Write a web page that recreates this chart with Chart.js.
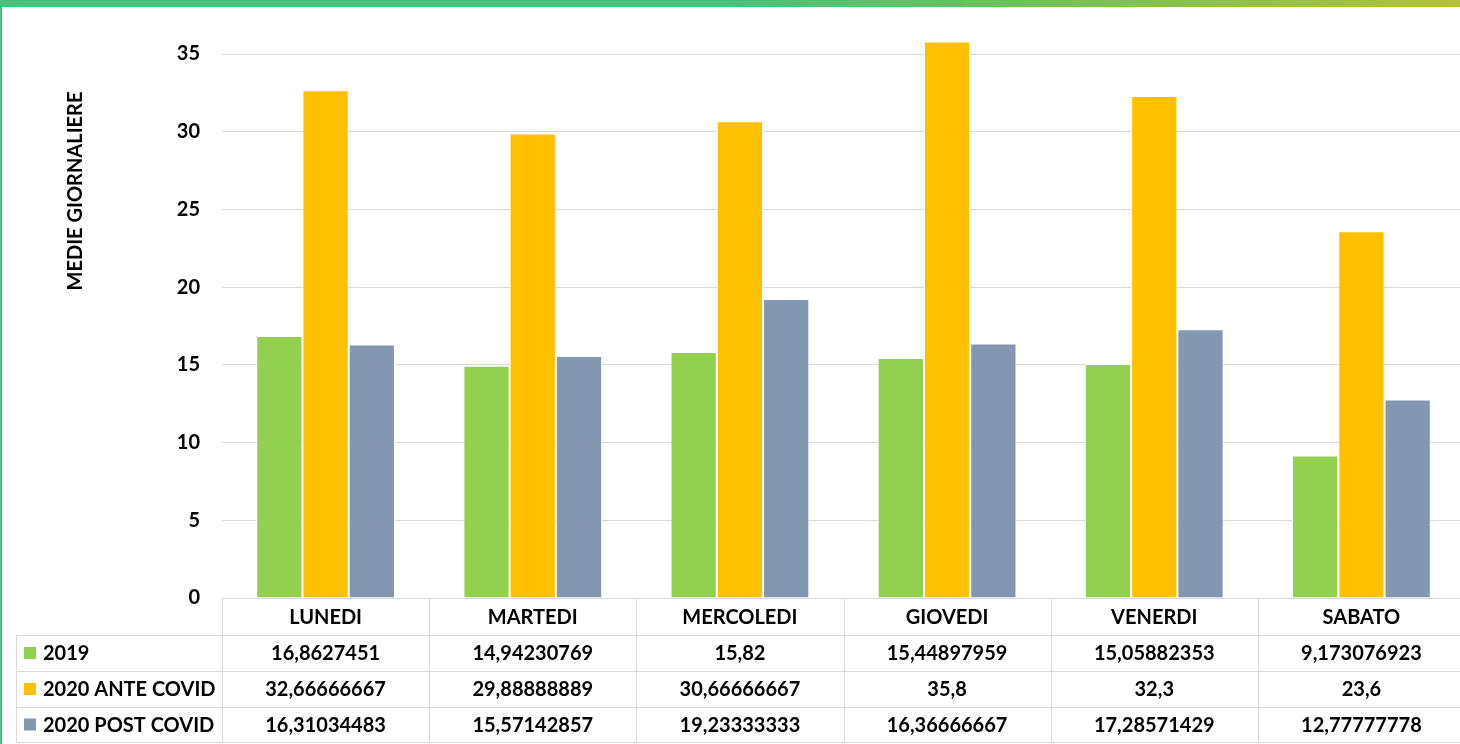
<!DOCTYPE html>
<html>
<head>
<meta charset="utf-8">
<script src="https://cdn.jsdelivr.net/npm/chart.js@4.4.1/dist/chart.umd.min.js"></script>
<style>
    html, body { margin: 0; padding: 0; background: #fff; overflow: hidden; }
    #wrap { position: absolute; left: 0; top: 0; width: 1468px; height: 744px; }
    #topBar { position: absolute; left: 0; top: 0; width: 1460px; height: 7px; z-index: 2;
        background: linear-gradient(to right, #45c37a 0%, #45c37a 50%, #6fc25a 70%, #b5c232 100%); }
    #leftBar { position: absolute; left: 0; top: 0; width: 2px; height: 744px; background: #45c37a; z-index: 2; }
</style>
</head>
<body>
<div id="topBar"></div>
<div id="leftBar"></div>
<div id="wrap"><canvas id="chartMedie"></canvas></div>
<script>
const giorni = ['LUNEDI', 'MARTEDI', 'MERCOLEDI', 'GIOVEDI', 'VENERDI', 'SABATO'];
const serie2019 = [16.8627451, 14.94230769, 15.82, 15.44897959, 15.05882353, 9.173076923];
const serieAnte = [32.66666667, 29.88888889, 30.66666667, 35.8, 32.3, 23.6];
const seriePost = [16.31034483, 15.57142857, 19.23333333, 16.36666667, 17.28571429, 12.77777778];
const nomiSerie = ['2019', '2020 ANTE COVID', '2020 POST COVID'];
const coloriSerie = ['#92d050', '#ffc000', '#8497b0'];
const yTicks = [0, 5, 10, 15, 20, 25, 30, 35];

const FONT = 'Lato, "Open Sans", sans-serif';

function fmt(v) {
    return String(v).replace('.', ',');
}

// tabella dati sotto il grafico + titolo asse
const tabellaPlugin = {
    id: 'tabellaDati',
    afterDraw(chart) {
        const ctx = chart.ctx;
        const x = chart.scales.x;
        const area = chart.chartArea;
        const n = giorni.length;
        const step = (area.right - area.left) / n;
        const rows = [area.bottom, 635, 671, 707, 742];
        const left = 16;
        const datasets = [serie2019, serieAnte, seriePost];

        ctx.save();
        ctx.strokeStyle = '#d9d9d9';
        ctx.lineWidth = 1;
        // linee orizzontali
        ctx.beginPath();
        for (let r = 1; r < rows.length; r++) {
            ctx.moveTo(left, rows[r] + 0.5);
            ctx.lineTo(area.right, rows[r] + 0.5);
        }
        // linee verticali
        for (let i = 0; i <= n; i++) {
            const px = Math.round(area.left + i * step) + 0.5;
            ctx.moveTo(px, rows[0]);
            ctx.lineTo(px, rows[4]);
        }
        ctx.moveTo(left + 0.5, rows[1]);
        ctx.lineTo(left + 0.5, rows[4]);
        ctx.stroke();

        ctx.fillStyle = '#000';
        ctx.font = 'bold 20px ' + FONT;
        ctx.textAlign = 'center';
        ctx.textBaseline = 'middle';
        giorni.forEach((g, i) => {
            const cx = x.getPixelForValue(i);
            ctx.fillText(g, cx, (rows[0] + rows[1]) / 2 + 1);
            datasets.forEach((d, s) => {
                ctx.fillText(fmt(d[i]), cx, (rows[s + 1] + rows[s + 2]) / 2 + 1);
            });
        });

        // legenda nella tabella
        ctx.textAlign = 'left';
        nomiSerie.forEach((nome, s) => {
            const cy = (rows[s + 1] + rows[s + 2]) / 2;
            ctx.fillStyle = coloriSerie[s];
            ctx.fillRect(24, cy - 6, 12, 12);
            ctx.fillStyle = '#000';
            ctx.fillText(nome, 43, cy + 1);
        });

        // titolo asse y
        ctx.translate(76, 191);
        ctx.rotate(-Math.PI / 2);
        ctx.textAlign = 'center';
        ctx.font = 'bold 20px ' + FONT;
        ctx.fillText('MEDIE GIORNALIERE', 0, 0);
        ctx.restore();
    }
};

const ctx = document.getElementById('chartMedie').getContext('2d');
const chart = new Chart(ctx, {
    type: 'bar',
    data: {
        labels: giorni,
        datasets: [serie2019, serieAnte, seriePost].map((d, s) => ({
            label: nomiSerie[s],
            data: d,
            backgroundColor: coloriSerie[s],
            borderColor: '#ffffff',
            borderWidth: 1,
            categoryPercentage: 0.67,
            barPercentage: 1,
            clip: false
        }))
    },
    options: {
        responsive: true,
        maintainAspectRatio: false,
        animation: false,
        layout: { padding: { top: 54, bottom: 146, left: 0, right: 3 } },
        plugins: {
            legend: { display: false },
            tooltip: { enabled: false }
        },
        scales: {
            x: {
                display: false
            },
            y: {
                min: 0,
                max: 35,
                afterFit(scale) { scale.width = 222; },
                afterBuildTicks(scale) { scale.ticks = yTicks.map(v => ({ value: v })); },
                grid: { color: '#d9d9d9', lineWidth: 1, drawTicks: false },
                border: { display: false },
                ticks: {
                    padding: 22,
                    color: '#000',
                    font: { family: FONT, size: 20, weight: 'bold' }
                }
            }
        }
    },
    plugins: [tabellaPlugin]
});
</script>
</body>
</html>
